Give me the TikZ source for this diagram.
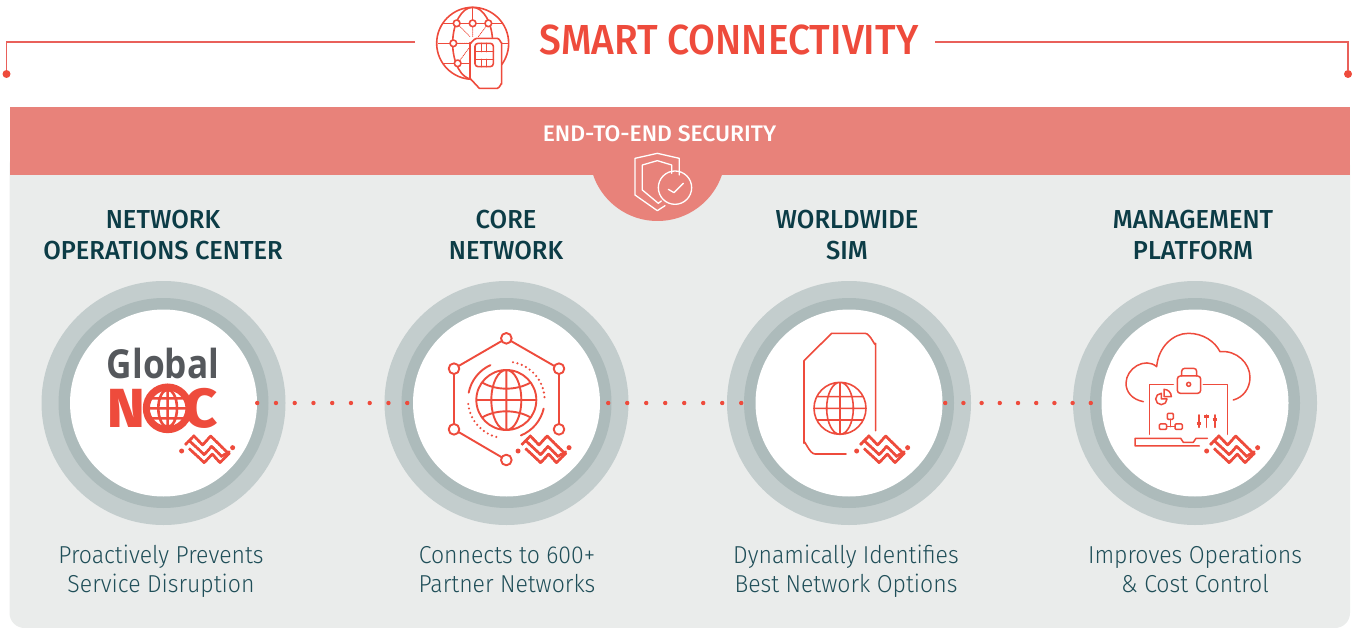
\documentclass[tikz,border=0pt]{standalone}
\usepackage{fontspec}
\setmainfont{Fira Sans}
\newfontfamily\headf{Fira Sans Medium}[FakeStretch=0.98]
\newfontfamily\titlef{Fira Sans Medium}[FakeStretch=0.927]
\newfontfamily\secf{Fira Sans Medium}[FakeStretch=1.017]
\newfontfamily\lightf{Fira Sans Light}[FakeStretch=0.94]
\newfontfamily\logof{Open Sans}[BoldFeatures={FakeStretch=0.88}]
\newfontfamily\nocf{Fira Sans ExtraBold}[FakeStretch=1.04]
\definecolor{panelc}{HTML}{EAECEB}
\definecolor{bandc}{HTML}{E8827A}
\definecolor{ringa}{HTML}{C3CDCD}
\definecolor{ringb}{HTML}{ADBBBB}
\definecolor{redc}{HTML}{EE4B3C}
\definecolor{linec}{HTML}{E9605A}
\definecolor{titlec}{HTML}{0C3C46}
\definecolor{bodyc}{HTML}{1F4E58}
\definecolor{greyc}{HTML}{55585C}
\tikzset{
  ringout/.style={circle,fill=ringa,minimum size=244pt,inner sep=0pt},
  ringmid/.style={circle,fill=ringb,minimum size=210pt,inner sep=0pt},
  ringin/.style={circle,fill=white,minimum size=187pt,inner sep=0pt},
  enddot/.style={circle,fill=redc,minimum size=8pt,inner sep=0pt},
  toprule/.style={draw=linec,line width=1.4pt},
  dotline/.style={draw=redc,line width=4.4pt,line cap=round,yshift=1pt},
  headtext/.style={text=titlec,align=center,font=\headf\fontsize{26}{31}\selectfont,inner sep=0pt},
  bodytext/.style={text=bodyc,align=center,font=\lightf\fontsize{24.5}{29.5}\selectfont,inner sep=0pt},
  icon/.style={draw=redc,line width=1.9pt,line cap=round,line join=round},
  whiteicon/.style={draw=white,line width=1.3pt,line cap=round,line join=round},
  zoomed/.style={shift={#1},x=0.3333pt,y=-0.3333pt},
  markline/.style={draw=redc,line width=3.7pt,line cap=round,dash pattern=on 0pt off 3.7pt},
  marksolid/.style={draw=redc,line width=2.5pt,line cap=round,line join=round},
}
\newcommand{\logomark}[1]{%
  \begin{scope}[zoomed={#1}]
    \fill[redc] (-77,3) circle (7.5) (76,-7) circle (7.5);
    \foreach \st in {marksolid,markline}{
      \draw[\st] (-64,-18)--(-40,-42)--(-14,-15)--(10,-42)--(63,10);
      \draw[\st] (-52,-26)--(-9,14)--(13,-11)--(43,19)--(66,5);
      \draw[\st] (-52,-2)--(-9,38)--(15,12)--(38,38)--(66,10);
    }
  \end{scope}}
\begin{document}
\begin{tikzpicture}[x=1pt,y=-1pt]
\useasboundingbox (0,0) rectangle (1356,628);
% panel and band
\fill[panelc,rounded corners=15pt] (9.5,150) rectangle (1350,628);
\fill[bandc] (9.5,107.5) rectangle (1350,175);
\begin{scope}
  \clip (500,170) rectangle (800,230);
  \fill[bandc] (657.5,153) circle (68);
\end{scope}
% header rule
\node[enddot] (dl) at (6.5,74) {};
\node[enddot] (dr) at (1348,74) {};
\coordinate (ll) at (415,42);
\coordinate (lr) at (935,42);
\draw[toprule] (ll) -| (dl);
\draw[toprule] (lr) -| (dr);
% title
\node[text=redc,font=\titlef\fontsize{42}{42}\selectfont,inner sep=0pt] (title) at (729,40) {SMART CONNECTIVITY};
\node[text=white,font=\secf\fontsize{22.5}{24}\selectfont,inner sep=0pt] (sec) at (659.5,134) {END-TO-END SECURITY};
% header icon
\begin{scope}[zoomed={(420,0)},icon,line width=1.6pt]
  \draw (158,130) circle (108);
  \draw (158,130) ellipse (60 and 108);
  \draw (158,22)--(158,70);
  \draw (55,130)--(265,130);
  \draw (70,70)--(245,70);
  \draw (70,190)--(150,190);
  \draw[densely dotted,line width=.8pt] (110,70)--(150,110) (158,70)--(158,110) (205,70)--(175,110) (100,130)--(150,130) (113,190)--(150,140);
  \foreach \a/\b in {110/70,158/70,205/70,100/130,113/190}{\draw[fill=white] (\a,\b) circle (10);}
  \draw[fill=white] (170,115) -- (232,115) to[out=0,in=-90] (245,128) -- (245,252) to[out=90,in=0] (232,265) -- (178,265) -- (150,235) -- (150,128) to[out=-90,in=180] cycle;
  \draw[rounded corners=3pt] (165,130) rectangle (220,200);
  \draw (165,155)--(220,155) (165,178)--(220,178) (185,130)--(185,155) (200,130)--(200,155) (185,178)--(185,200) (200,178)--(200,200);
\end{scope}
% shield icon
\begin{scope}[zoomed={(580,140)},whiteicon]
  \draw (255,197) -- (232,212) -- (165,165) -- (165,55) -- (232,40) -- (298,55) -- (298,105);
  \draw (244,183) -- (235,190) -- (187,150) -- (187,75) -- (232,62) -- (275,75) -- (275,100);
  \draw (285,143) circle (50);
  \draw (265,148) -- (282,158) -- (310,130);
\end{scope}
% rings
\foreach \n/\x in {1/163.5,2/506.5,3/849,4/1195}{
  \node[ringout] (ra\n) at (\x,403) {};
  \node[ringmid] (rb\n) at (\x,403) {};
  \node[ringin] (c\n) at (\x,403) {};
}
% dotted connectors
\draw[dotline,dash pattern=on 0pt off 18.75pt,shorten >=3pt] (c1.east) -- (c2.west);
\draw[dotline,dash pattern=on 0pt off 19pt,shorten <=8pt,shorten >=12pt] (c2.east) -- (c3.west);
\draw[dotline,dash pattern=on 0pt off 18.2pt,shorten <=2.5pt,shorten >=8pt] (c3.east) -- (c4.west);
% heads
\node[headtext] (h1) at (163,235) {NETWORK\\OPERATIONS CENTER};
\node[headtext] (h2) at (506,235) {CORE\\NETWORK};
\node[headtext] (h3) at (847,235) {WORLDWIDE\\SIM};
\node[headtext] (h4) at (1193,235) {MANAGEMENT\\PLATFORM};
% bodies
\node[bodytext] (b1) at (161,572) {\strut Proactively Prevents\\\strut Service Disruption};
\node[bodytext] (b2) at (507,572) {\strut Connects to 600+\\\strut Partner Networks};
\node[bodytext] (b3) at (846,572) {\strut Dynamically Identifies\\\strut Best Network Options};
\node[bodytext] (b4) at (1195,572) {\strut Improves Operations\\\strut \& Cost Control};
% logo
\node[text=greyc,font=\logof\bfseries\fontsize{40}{40}\selectfont,inner sep=0pt,anchor=base] (glob) at (163,378) {Global};
\node[text=redc,font=\nocf\fontsize{55}{55}\selectfont,inner sep=0pt,anchor=base] (noc) at (163,427) {NOC};
\begin{scope}[zoomed={(60,300)}]
  \fill[white] (323,325) circle (66);
  \draw[redc,line width=7pt] (323,325) circle (64);
  \clip (323,325) circle (56);
  \draw[redc,line width=2.6pt] (323,325) ellipse (28 and 56) (323,265)--(323,385) (262,325)--(384,325) (270,295)--(376,295) (270,355)--(376,355);
\end{scope}
\logomark{(207.3,450)}
% core network icon
\begin{scope}[zoomed={(400,300)},icon]
  \foreach \a/\b in {319/115,162/206,477/206,162/388,477/388,319/480}{\coordinate (p\a\b) at (\a,\b);}
  \draw (p319115)--(p162206)--(p162388)--(p319480) (p319115)--(p477206)--(p477388);
  \foreach \a/\b in {319/115,162/206,477/206,162/388,477/388,319/480}{\draw[fill=white] (\a,\b) circle (16);}
  \begin{scope}[shift={(319,300)}]
    \draw (0,0) circle (90) (0,0) ellipse (45 and 90) (0,-90)--(0,90) (-90,0)--(90,0);
    \draw (-72,-52) .. controls (-30,-28) and (30,-28) .. (72,-52);
    \draw (-72,52) .. controls (-30,28) and (30,28) .. (72,52);
    \draw (-169:115) arc[start angle=-169,end angle=-114.5,radius=115];
    \draw (13:115) arc[start angle=13,end angle=67.7,radius=115];
    \draw[line width=2.4pt,dash pattern=on 0pt off 4.6pt] (-80:115) arc[start angle=-80,end angle=-3.6,radius=115];
    \draw[line width=2.4pt,dash pattern=on 0pt off 4.6pt] (-186:115) arc[start angle=-186,end angle=-257.6,radius=115];
  \end{scope}
\end{scope}
\logomark{(543.7,450)}
% SIM icon
\begin{scope}[zoomed={(745,300)},icon,line width=1.6pt]
  \draw (392,392)--(392,130) to[out=-90,in=0] (360,100) -- (260,100) -- (177,182) -- (177,430) to[out=90,in=180] (210,462) -- (303,462);
  \begin{scope}[shift={(285,325)}]
    \draw (0,0) circle (78) (0,0) ellipse (40 and 78) (0,-78)--(0,78) (-78,0)--(78,0) (-68,-35)--(68,-35) (-68,35)--(68,35);
  \end{scope}
\end{scope}
\logomark{(882.3,450)}
% platform icon
\begin{scope}[zoomed={(1090,300)},icon,line width=1.5pt]
  \draw (160,305) .. controls (125,298) and (108,275) .. (108,250) .. controls (108,205) and (165,170) .. (200,200) .. controls (205,140) and (250,100) .. (295,100) .. controls (340,100) and (375,125) .. (390,155) .. controls (440,150) and (480,190) .. (480,232) .. controls (480,265) and (460,292) .. (430,300);
  \draw (178,403)--(178,253)--(250,253) (340,253)--(412,253)--(412,403);
  \draw[rounded corners=3pt] (262,228) rectangle (332,280);
  \draw[rounded corners=3pt] (275,228)--(275,205)--(320,205)--(320,228);
  \draw (296,253) circle (6);
  \draw (231,297) arc[start angle=0,end angle=270,radius=17] -- (214,297) -- cycle;
  \draw (222,290) -- (222,268) arc[start angle=-90,end angle=0,radius=22] -- cycle;
  \draw[rounded corners=1pt] (232,340) rectangle (250,358) (208,372) rectangle (230,388) (255,372) rectangle (277,388);
  \draw (241,358)--(241,380) (230,380)--(255,380);
  \draw (327,345)--(327,382) (350,345)--(350,382) (375,345)--(375,382);
  \draw[line width=3pt,line cap=butt] (320,370)--(334,370) (343,350)--(357,350) (368,360)--(382,360);
  \draw (352,415)--(318,415)--(310,427)--(280,427)--(272,415)--(135,415)--(135,438)--(328,438);
\end{scope}
\logomark{(1232.3,450)}
\end{tikzpicture}
\end{document}
